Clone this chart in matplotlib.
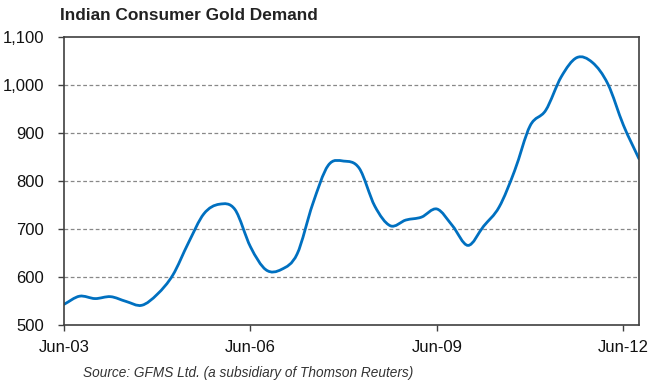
import numpy as np
import matplotlib.pyplot as plt
from matplotlib.path import Path
from matplotlib.patches import PathPatch

plt.rcParams['font.family'] = ['Liberation Sans', 'DejaVu Sans']

# quarterly readings, months since Jun-03 -> demand (tonnes)
months = [0, 3, 6, 9, 12, 15, 18, 21, 24, 27, 30, 33, 36, 39, 42, 45, 48, 51,
          54, 57, 60, 63, 66, 69, 72, 75, 78, 81, 84, 87, 90, 93, 96, 99, 102,
          105, 108, 111]
demand = [543, 560, 555, 559, 549, 541, 564, 604, 671, 732, 752, 741, 663,
          615, 616, 648, 752, 833, 842, 827, 748, 707, 719, 725, 742, 707,
          666, 706, 746, 822, 916, 948, 1018, 1058, 1048, 1003, 917, 847]

tick_pos = [0, 36, 72, 108]
tick_labels = ['Jun-03', 'Jun-06', 'Jun-09', 'Jun-12']
y_ticks = [500, 600, 700, 800, 900, 1000, 1100]


def smooth_path(x, y):
    # smoothed line: cubic Hermite segments written as Beziers
    x = np.asarray(x, float)
    y = np.asarray(y, float)
    n = len(x)
    m = np.empty(n)
    m[0] = (y[1] - y[0]) / (x[1] - x[0])
    m[-1] = (y[-1] - y[-2]) / (x[-1] - x[-2])
    m[1:-1] = (y[2:] - y[:-2]) / (x[2:] - x[:-2])
    verts = [(x[0], y[0])]
    codes = [Path.MOVETO]
    for i in range(n - 1):
        h = x[i + 1] - x[i]
        verts += [(x[i] + h / 3, y[i] + m[i] * h / 3),
                  (x[i + 1] - h / 3, y[i + 1] - m[i + 1] * h / 3),
                  (x[i + 1], y[i + 1])]
        codes += [Path.CURVE4] * 3
    return Path(verts, codes)


fig = plt.figure(figsize=(6.5, 3.85), dpi=100)
ax = fig.add_axes([0.0985, 0.156, 0.8845, 0.7466])

ax.add_patch(PathPatch(smooth_path(months, demand), fill=False,
                       edgecolor='#0070C0', lw=2.0, capstyle='round'))

ax.set_xlim(0, 111)
ax.set_ylim(500, 1100)
ax.set_xticks(tick_pos)
ax.set_xticklabels(tick_labels)
ax.set_yticks(y_ticks)
ax.set_yticklabels([f'{v:,}' for v in y_ticks])
ax.tick_params(labelsize=12, color='#404040', length=4.5, width=1,
               labelcolor='#111111')
ax.tick_params(axis='y', pad=10)
ax.tick_params(axis='x', pad=6)

for v in y_ticks[1:-1]:
    ax.axhline(v, color='#888888', lw=0.9, ls=(0, (3, 2)), zorder=0)

for s in ax.spines.values():
    s.set_color('#404040')
    s.set_linewidth(1.2)

fig.text(0.092, 0.961, 'Indian Consumer Gold Demand', fontsize=12.4,
         fontweight='bold', color='#222222', va='center', ha='left')
fig.text(0.128, 0.031, 'Source: GFMS Ltd. (a subsidiary of Thomson Reuters)',
         fontsize=9.8, style='italic', color='#333333', va='center', ha='left')

fig.savefig('out.png', dpi=100)
